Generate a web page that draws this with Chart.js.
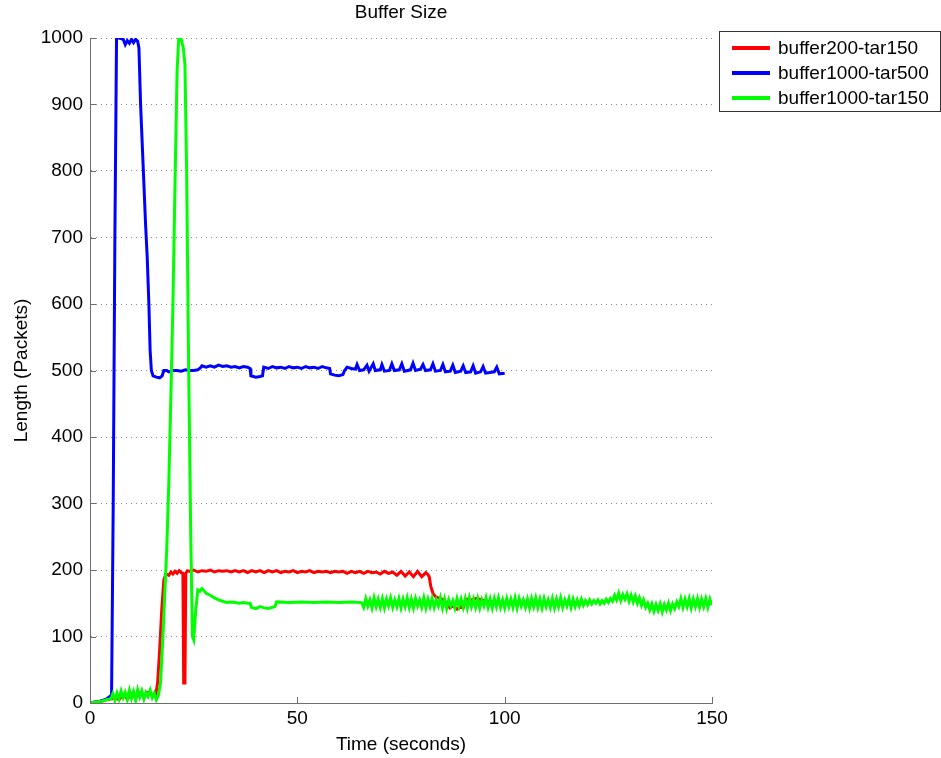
<!DOCTYPE html>
<html>
<head>
<meta charset="utf-8">
<title>Buffer Size</title>
<script src="https://cdn.jsdelivr.net/npm/chart.js@4.4.1/dist/chart.umd.min.js"></script>
<style>
  html, body { margin: 0; padding: 0; background: #fff; }
  #wrap { width: 941px; height: 758px; }
</style>
</head>
<body>
<div id="wrap"><canvas id="bufChart" width="941" height="758"></canvas></div>
<script>
// ---- DATA ----
var chartTitle = 'Buffer Size';
var xTitle = 'Time (seconds)';
var yTitle = 'Length (Packets)';
var xTicks = [0, 50, 100, 150];
var yTicks = [0, 100, 200, 300, 400, 500, 600, 700, 800, 900, 1000];
var seriesNames = ['buffer200-tar150', 'buffer1000-tar500', 'buffer1000-tar150'];
var seriesColors = ['#ff0000', '#0000ff', '#00ff00'];

// buffer200-tar150
var redT = [0, 1, 2, 3, 4, 5, 6, 7, 8, 9, 10, 11, 12, 13, 14, 15, 15.8, 16.3, 16.8, 17.3, 17.8, 18.3, 19, 19.5, 20, 20.5, 21, 21.5, 22, 22.4, 22.6, 22.9, 23.1, 23.5,
  24, 25, 26, 27, 28, 29, 30, 31, 32, 33, 34, 35, 36, 37, 38, 39, 40, 41, 42, 43, 44, 45, 46, 47, 48, 49, 50, 51, 52, 53, 54, 55, 56, 57, 58, 59, 60, 61, 62, 63, 64, 65, 66, 67, 68, 69, 70, 71, 72, 73, 74, 75, 76, 77, 78, 79, 80, 81, 81.5,
  81.8, 82.2, 82.7, 83.3, 84, 85, 86, 86.8, 87.5, 88.5, 89.5, 90, 90.6, 91, 92, 93, 94, 95, 96, 97, 98, 99, 100];
var redV = [0, 1, 2, 3, 5, 6, 8, 5, 12, 6, 14, 8, 15, 9, 16, 12, 10, 30, 80, 140, 185, 194, 192, 197, 194, 198, 195, 199, 196, 195, 30, 30, 195, 199,
  198, 200, 197, 199, 198, 200, 197, 199, 198, 199, 197, 199, 197, 199, 196, 199, 197, 199, 196, 199, 197, 199, 196, 198, 197, 199, 196, 198, 197, 199, 196, 198, 197, 198, 196, 198, 197, 198, 195, 198, 196, 198, 195, 198, 196, 197, 194, 198, 195, 197, 192, 198, 191, 197, 190, 198, 190, 196, 193,
  190, 175, 165, 160, 158, 156, 150, 143, 146, 141, 145, 143, 152, 156, 155, 157, 156, 154, 153, 152, 150, 151, 150];

// buffer1000-tar500
var blueT = [0, 1, 2, 3, 4, 4.8, 5.2, 5.6, 6.0, 6.4, 7, 8, 8.5, 9, 9.5, 10, 10.5, 11, 11.5, 11.8, 12.2, 12.6, 13, 13.4, 13.8, 14.2, 14.5, 14.8, 15.2, 16, 16.8, 17.4, 17.8, 18.5, 19, 20, 21, 22, 23, 24, 25, 26,
  26.6, 27, 28, 29, 30, 31, 32, 33, 34, 35, 36, 37, 38, 38.6, 38.8, 40, 41, 41.6, 41.9, 43, 44, 45, 46, 47, 48, 49, 50, 51, 52, 53, 54, 55, 56, 57, 57.8,
  58, 59, 60, 61, 61.4, 62, 63, 64, 64.4, 65, 66, 66.8, 67.3, 68.3, 68.8, 70, 70.4, 71, 72.2, 72.8, 73.4, 74.6, 75.2, 75.8, 77.3, 77.9, 78.5, 79.7, 80.3, 80.9,
  82.1, 82.7, 83.3, 84.5, 85.1, 85.7, 86.9, 87.5, 88.1, 89.4, 90, 90.6, 91.8, 92.4, 93, 94.2, 94.8, 95.4, 97.5, 98.1, 98.7, 100];
var blueV = [0, 1, 2, 4, 6, 10, 12, 300, 700, 1000, 1000, 998, 990, 996, 992, 998, 993, 998, 995, 985, 900, 840, 780, 720, 670, 600, 530, 500, 492, 490, 489, 492, 500, 500, 498, 500, 500, 499, 501, 500, 500, 501,
  504, 507, 505, 507, 505, 508, 506, 507, 505, 506, 504, 506, 505, 503, 492, 490, 491, 492, 505, 503, 506, 504, 505, 503, 506, 504, 505, 503, 506, 504, 505, 503, 506, 504, 503,
  495, 493, 492, 494, 500, 505, 503, 502, 509, 500, 501, 508, 499, 510, 500, 501, 509, 499, 500, 510, 500, 501, 510, 499, 501, 511, 500, 502, 509, 500,
  501, 510, 499, 500, 509, 498, 499, 508, 497, 499, 507, 497, 498, 507, 496, 498, 506, 496, 498, 505, 495, 496];

// buffer1000-tar150
var greenT = [0, 1, 2, 3, 4, 5, 5.5, 6, 6.5, 7, 7.5, 8, 8.5, 9, 9.5, 10, 10.5, 11, 11.5, 12, 12.5, 13, 13.5, 14, 14.5, 15, 15.5, 16, 16.5,
  17, 17.5, 18, 18.5, 19, 19.5, 20, 20.5, 21, 21.4, 22, 22.5, 22.9, 23.3, 23.8, 24.3, 24.7, 25, 25.5, 26, 26.5, 27, 28, 29, 30, 31, 32, 33, 34, 35, 36, 37, 38, 38.6,
  38.9, 40, 41, 42, 43, 44, 44.6, 45, 48, 51, 54, 57, 60, 63, 65.5,
  66, 66.5, 67, 67.5, 68, 68.5, 69, 69.5, 70, 70.5, 71, 71.5, 72, 72.5, 73, 73.5, 74, 74.5, 75, 75.5,
  76, 76.5, 77, 77.5, 78, 78.5, 79, 79.5, 80, 80.5, 81, 81.5, 82, 82.5, 83, 83.5, 84, 84.5, 85, 85.5,
  86, 86.5, 87, 87.5, 88, 88.5, 89, 89.5, 90, 90.5, 91, 91.5, 92, 92.5, 93, 93.5, 94, 94.5, 95, 95.5,
  96, 96.5, 97, 97.5, 98, 98.5, 99, 99.5, 100, 100.5, 101, 101.5, 102, 102.5, 103, 103.5, 104, 104.5, 105, 105.5,
  106, 106.5, 107, 107.5, 108, 108.5, 109, 109.5, 110, 110.5, 111, 111.5, 112, 112.5, 113, 113.5, 114, 114.5, 115, 115.5,
  116, 116.5, 117, 117.5, 118, 118.5, 119, 119.5, 120, 120.5, 121, 121.5, 122, 122.5, 123, 123.5, 124, 124.5, 125, 125.5,
  126, 126.5, 127, 127.5, 128, 128.5, 129, 129.5, 130, 130.5, 131, 131.5, 132, 132.5, 133, 133.5, 134, 134.5, 135, 135.5,
  136, 136.5, 137, 137.5, 138, 138.5, 139, 139.5, 140, 140.5, 141, 141.5, 142, 142.5, 143, 143.5, 144, 144.5, 145, 145.5,
  146, 146.5, 147, 147.5, 148, 148.5, 149, 149.5, 150];
var greenV = [0, 1, 2, 3, 5, 6, 14, 4, 15, 6, 18, 8, 16, 5, 19, 7, 17, 4, 20, 9, 18, 6, 16, 10, 19, 8, 15, 5, 12,
  30, 90, 160, 230, 330, 460, 600, 780, 950, 1000, 998, 985, 960, 800, 500, 250, 100, 95, 140, 170, 168, 172, 165, 162, 158, 155, 153, 151, 152, 151, 150, 151, 150, 150,
  144, 142, 145, 143, 142, 144, 145, 152, 151, 152, 151, 152, 151, 152, 151,
  144, 157, 146, 155, 143, 158, 145, 156, 144, 157, 143, 156, 146, 158, 144, 155, 145, 157, 143, 156,
  145, 158, 144, 156, 143, 157, 146, 155, 144, 158, 143, 156, 145, 157, 144, 155, 146, 158, 143, 156,
  142, 155, 146, 154, 143, 157, 145, 156, 144, 157, 143, 158, 145, 156, 144, 157, 143, 155, 146, 158,
  144, 156, 143, 157, 145, 158, 144, 155, 143, 157, 145, 156, 144, 158, 143, 157, 146, 155, 144, 156,
  143, 157, 145, 158, 144, 156, 143, 157, 145, 155, 144, 157, 143, 156, 145, 158, 144, 155, 146, 157,
  144, 156, 145, 155, 146, 156, 147, 154, 148, 155, 149, 154, 150, 155, 149, 154, 150, 156, 151, 157,
  153, 162, 155, 165, 154, 163, 156, 164, 153, 162, 152, 161, 150, 158, 147, 155, 144, 150, 140, 149,
  138, 148, 139, 149, 137, 148, 140, 150, 139, 149, 142, 152, 145, 157, 144, 156, 145, 157, 143, 156,
  145, 157, 144, 156, 145, 157, 144, 156, 147];

function pts(t, v) {
  return t.map(function (x, i) { return { x: x, y: v[i] }; });
}

var FONT = "'Liberation Sans', Arial, sans-serif";
var AXIS_COLOR = '#6e6e6e';

// ---- EXTRA DRAWING: title, inward ticks, boxed legend ----
var decor = {
  id: 'decor',
  afterDraw: function (chart) {
    var ctx = chart.ctx;
    var a = chart.chartArea;
    var xs = chart.scales.x, ys = chart.scales.y;
    ctx.save();

    // title
    ctx.fillStyle = '#000';
    ctx.font = '19px ' + FONT;
    ctx.textAlign = 'center';
    ctx.textBaseline = 'middle';
    ctx.fillText(chartTitle, (a.left + a.right) / 2, 13);

    // inward tick marks
    ctx.strokeStyle = AXIS_COLOR;
    ctx.lineWidth = 1;
    ctx.beginPath();
    xTicks.forEach(function (t) {
      var px = Math.round(xs.getPixelForValue(t)) + 0.5;
      ctx.moveTo(px, a.bottom);
      ctx.lineTo(px, a.bottom - 6);
    });
    yTicks.forEach(function (t) {
      var py = Math.round(ys.getPixelForValue(t)) + 0.5;
      ctx.moveTo(a.left, py);
      ctx.lineTo(a.left + 6, py);
    });
    ctx.stroke();

    // legend
    var lx = 719.5, ly = 31.5, lw = 221, lh = 80;
    ctx.fillStyle = '#fff';
    ctx.fillRect(lx, ly, lw, lh);
    ctx.strokeStyle = '#333';
    ctx.strokeRect(lx, ly, lw, lh);
    ctx.textAlign = 'left';
    ctx.textBaseline = 'middle';
    ctx.font = '19px ' + FONT;
    seriesNames.forEach(function (name, i) {
      var y = 48 + i * 25;
      ctx.strokeStyle = seriesColors[i];
      ctx.lineWidth = 4;
      ctx.beginPath();
      ctx.moveTo(732, y);
      ctx.lineTo(770, y);
      ctx.stroke();
      ctx.fillStyle = '#000';
      ctx.fillText(name, 778, y + 1);
    });
    ctx.restore();
  }
};

// ---- CHART ----
var series = [pts(redT, redV), pts(blueT, blueV), pts(greenT, greenV)];

new Chart(document.getElementById('bufChart'), {
  type: 'scatter',
  data: {
    datasets: series.map(function (d, i) {
      return {
        label: seriesNames[i],
        data: d,
        showLine: true,
        borderColor: seriesColors[i],
        backgroundColor: seriesColors[i],
        borderWidth: 3,
        pointRadius: 0,
        tension: 0,
        order: 2 - i
      };
    })
  },
  options: {
    responsive: false,
    animation: false,
    events: [],
    layout: { padding: { left: 0, right: 229, top: 38, bottom: 0 } },
    plugins: {
      legend: { display: false },
      title: { display: false },
      tooltip: { enabled: false }
    },
    scales: {
      x: {
        type: 'linear',
        min: 0, max: 150,
        afterFit: function (s) { s.height = 55; },
        afterBuildTicks: function (s) { s.ticks = xTicks.map(function (v) { return { value: v }; }); },
        grid: { color: 'rgba(0,0,0,0)', drawTicks: false },
        border: { display: true, color: AXIS_COLOR, width: 1 },
        ticks: { color: '#000', font: { family: FONT, size: 19 }, padding: 4, maxRotation: 0,
          callback: function (v) { return String(v); } },
        title: { display: true, text: xTitle, color: '#000', font: { family: FONT, size: 19 }, padding: { top: 0, bottom: 2 } }
      },
      y: {
        type: 'linear',
        min: 0, max: 1000,
        afterFit: function (s) { s.width = 90; },
        afterBuildTicks: function (s) { s.ticks = yTicks.map(function (v) { return { value: v }; }); },
        grid: { color: '#8a8a8a', lineWidth: 1, drawTicks: false },
        border: { display: true, color: AXIS_COLOR, width: 1, dash: [1, 4] },
        ticks: { color: '#000', font: { family: FONT, size: 19 }, padding: 7,
          callback: function (v) { return String(v); } },
        title: { display: true, text: yTitle, color: '#000', font: { family: FONT, size: 19 }, padding: { top: 10, bottom: 0 } }
      }
    }
  },
  plugins: [decor, {
    // solid left axis line drawn over the dotted grid origin
    id: 'leftAxis',
    afterDraw: function (chart) {
      var ctx = chart.ctx, a = chart.chartArea;
      ctx.save();
      ctx.strokeStyle = AXIS_COLOR;
      ctx.lineWidth = 1;
      ctx.beginPath();
      ctx.moveTo(a.left + 0.5, a.top);
      ctx.lineTo(a.left + 0.5, a.bottom);
      ctx.stroke();
      ctx.restore();
    }
  }]
});
</script>
</body>
</html>
